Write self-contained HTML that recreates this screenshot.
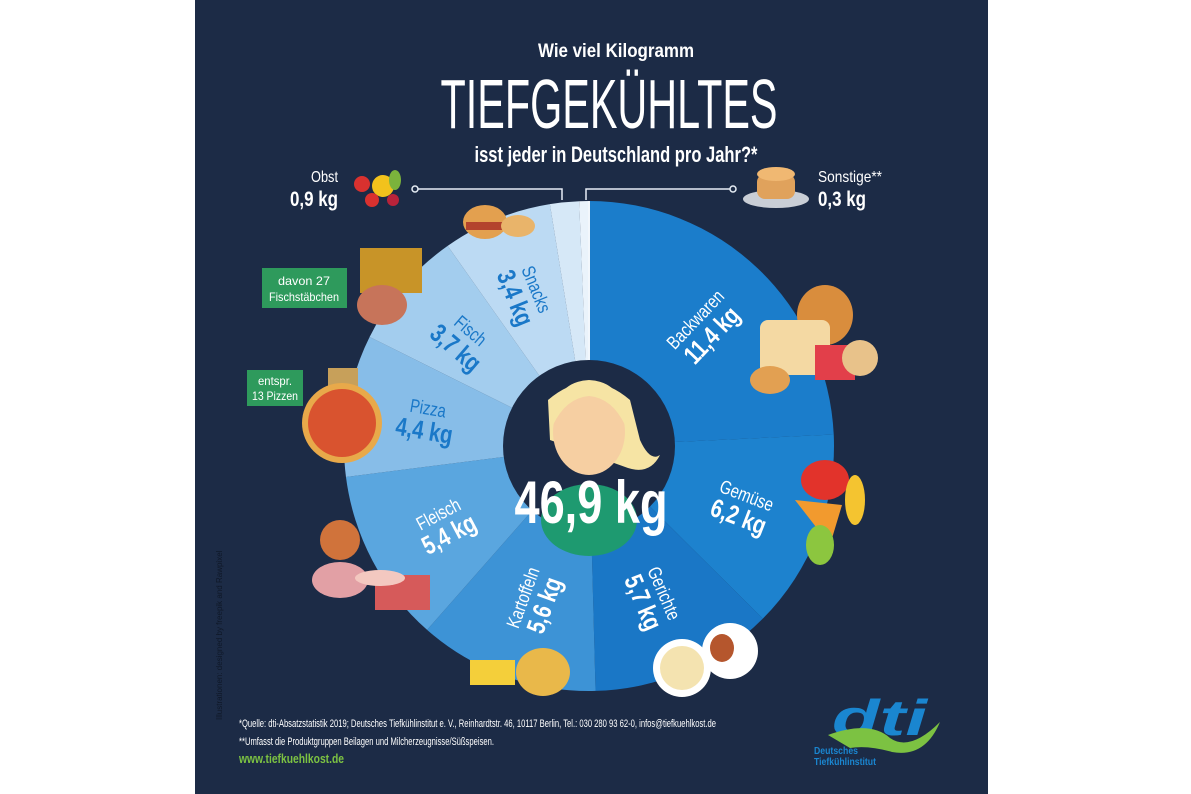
<!DOCTYPE html>
<html><head><meta charset="utf-8"><style>
html,body{margin:0;padding:0;background:#fff;}
svg{display:block;}
text{font-family:"Liberation Sans Narrow","Liberation Sans",sans-serif;}
</style></head><body>
<svg id="chart" width="1191" height="794" viewBox="0 0 1191 794">
<rect x="0" y="0" width="1191" height="794" fill="#ffffff"/>
<rect x="195" y="0" width="793" height="794" fill="#1c2b46"/>
<text x="616" y="57" text-anchor="middle" fill="#fff" font-weight="bold" font-size="19" textLength="156" lengthAdjust="spacingAndGlyphs">Wie viel Kilogramm</text>
<text x="609" y="128" text-anchor="middle" fill="#fff" font-size="70" textLength="337" lengthAdjust="spacingAndGlyphs">TIEFGEKÜHLTES</text>
<text x="616" y="162" text-anchor="middle" fill="#fff" font-weight="bold" font-size="22" textLength="283" lengthAdjust="spacingAndGlyphs">isst jeder in Deutschland pro Jahr?*</text>

<g>
<text x="338" y="182" text-anchor="end" fill="#fff" font-size="16" textLength="27" lengthAdjust="spacingAndGlyphs">Obst</text>
<text x="338" y="206" text-anchor="end" fill="#fff" font-weight="bold" font-size="21" textLength="48" lengthAdjust="spacingAndGlyphs">0,9 kg</text>
<circle cx="362" cy="184" r="8" fill="#d9312f"/><circle cx="383" cy="186" r="11" fill="#f2c21c"/><circle cx="372" cy="200" r="7" fill="#d9312f"/><circle cx="393" cy="200" r="6" fill="#b8233a"/><ellipse cx="395" cy="180" rx="6" ry="10" fill="#7bb33c"/>
<polyline points="415,189 562,189 562,200" fill="none" stroke="#e6edf5" stroke-width="1.5"/>
<circle cx="415" cy="189" r="3" fill="#1c2b46" stroke="#e6edf5" stroke-width="1.5"/>
</g>
<g>
<text x="818" y="182" fill="#fff" font-size="16" textLength="64" lengthAdjust="spacingAndGlyphs">Sonstige**</text>
<text x="818" y="206" fill="#fff" font-weight="bold" font-size="21" textLength="48" lengthAdjust="spacingAndGlyphs">0,3 kg</text>
<ellipse cx="776" cy="199" rx="33" ry="9" fill="#c9ced6"/>
<rect x="757" y="174" width="38" height="25" rx="8" fill="#e0a25c"/><ellipse cx="776" cy="174" rx="19" ry="7" fill="#f0b872"/>
<polyline points="586,200 586,189 733,189" fill="none" stroke="#e6edf5" stroke-width="1.5"/>
<circle cx="733" cy="189" r="3" fill="#1c2b46" stroke="#e6edf5" stroke-width="1.5"/>
</g>

<g id="donut"></g>

<g>
<ellipse cx="589" cy="520" rx="48" ry="36" fill="#1e9a70"/>
<path d="M548 400 Q589 365 630 400 L640 440 Q650 462 660 455 Q650 475 628 468 L550 440 Z" fill="#f6e4a4"/>
<ellipse cx="589" cy="432" rx="36" ry="43" fill="#f6cfa2"/>
<path d="M553 425 Q553 382 589 380 Q625 382 625 425 Q612 398 589 396 Q566 398 553 425Z" fill="#f6e4a4"/>
<text x="591" y="523" text-anchor="middle" fill="#fff" font-weight="bold" font-size="60" textLength="153" lengthAdjust="spacingAndGlyphs">46,9 kg</text>
</g>

<g>
<ellipse cx="485" cy="222" rx="22" ry="17" fill="#e3a04f"/><rect x="466" y="222" width="38" height="8" fill="#b3432d"/><ellipse cx="518" cy="226" rx="17" ry="11" fill="#e9b46a"/>
<rect x="360" y="248" width="62" height="45" fill="#c89428"/><ellipse cx="382" cy="305" rx="25" ry="20" fill="#c7745a"/>
<rect x="328" y="368" width="30" height="32" fill="#c7a05a"/><circle cx="342" cy="423" r="40" fill="#e8a94a"/><circle cx="342" cy="423" r="34" fill="#d9532f"/>
<ellipse cx="825" cy="315" rx="28" ry="30" fill="#d98d3d"/><rect x="760" y="320" width="70" height="55" rx="8" fill="#f4d9a3"/><rect x="815" y="345" width="40" height="35" fill="#e23f4a"/><circle cx="860" cy="358" r="18" fill="#e8c28a"/><ellipse cx="770" cy="380" rx="20" ry="14" fill="#e2a052"/>
<ellipse cx="825" cy="480" rx="24" ry="20" fill="#e2332b"/><path d="M795 500 L830 545 L842 505Z" fill="#f29a2e"/><ellipse cx="855" cy="500" rx="10" ry="25" fill="#f4c430"/><ellipse cx="820" cy="545" rx="14" ry="20" fill="#8cc63f"/>
<circle cx="682" cy="668" r="29" fill="#fff"/><circle cx="682" cy="668" r="22" fill="#f4e3b0"/><circle cx="730" cy="651" r="28" fill="#fff"/><ellipse cx="722" cy="648" rx="12" ry="14" fill="#b5562d"/>
<ellipse cx="543" cy="672" rx="27" ry="24" fill="#e9b84a"/><rect x="470" y="660" width="45" height="25" fill="#f4cf3a"/>
<circle cx="340" cy="540" r="20" fill="#d0733b"/><ellipse cx="340" cy="580" rx="28" ry="18" fill="#e2a0a5"/><rect x="375" y="575" width="55" height="35" fill="#d65a5a"/><ellipse cx="380" cy="578" rx="25" ry="8" fill="#f3c8c0"/>
</g>

<g>
<rect x="262" y="268" width="85" height="40" fill="#2e9a5c"/>
<text x="304" y="285" text-anchor="middle" fill="#fff" font-size="12" textLength="52" lengthAdjust="spacingAndGlyphs">davon 27</text>
<text x="304" y="301" text-anchor="middle" fill="#fff" font-size="12" textLength="70" lengthAdjust="spacingAndGlyphs">Fischstäbchen</text>
</g>
<g>
<rect x="247" y="370" width="56" height="36" fill="#2e9a5c"/>
<text x="275" y="385" text-anchor="middle" fill="#fff" font-size="12" textLength="34" lengthAdjust="spacingAndGlyphs">entspr.</text>
<text x="275" y="400" text-anchor="middle" fill="#fff" font-size="12" textLength="46" lengthAdjust="spacingAndGlyphs">13 Pizzen</text>
</g>

<text transform="translate(222,720) rotate(-90)" fill="#0f1828" font-size="8">Illustrationen: designed by freepik and Rawpixel</text>
<text x="239" y="727" fill="#fff" font-size="11" textLength="477" lengthAdjust="spacingAndGlyphs">*Quelle: dti-Absatzstatistik 2019; Deutsches Tiefkühlinstitut e. V., Reinhardtstr. 46, 10117 Berlin, Tel.: 030 280 93 62-0, infos@tiefkuehlkost.de</text>
<text x="239" y="745" fill="#fff" font-size="11" textLength="255" lengthAdjust="spacingAndGlyphs">**Umfasst die Produktgruppen Beilagen und Milcherzeugnisse/Süßspeisen.</text>
<text x="239" y="763" fill="#7cc242" font-weight="bold" font-size="13" textLength="105" lengthAdjust="spacingAndGlyphs">www.tiefkuehlkost.de</text>

<g>
<text x="832" y="735" fill="#1a86d0" font-weight="bold" font-style="italic" font-size="50" textLength="95" lengthAdjust="spacingAndGlyphs">dti</text>
<path d="M828 735 Q870 720 890 738 Q910 752 940 722 Q925 758 892 752 Q868 745 850 748Z" fill="#7cc242"/>
<text x="814" y="754" fill="#1a86d0" font-weight="bold" font-size="10" textLength="44" lengthAdjust="spacingAndGlyphs">Deutsches</text>
<text x="814" y="765" fill="#1a86d0" font-weight="bold" font-size="10" textLength="62" lengthAdjust="spacingAndGlyphs">Tiefkühlinstitut</text>
</g>
</svg>
<script>
const categories = ["Backwaren","Gemüse","Gerichte","Kartoffeln","Fleisch","Pizza","Fisch","Snacks","Obst","Sonstige"];
const values = [11.4, 6.2, 5.7, 5.6, 5.4, 4.4, 3.7, 3.4, 0.9, 0.3];
const valueLabels = ["11,4 kg","6,2 kg","5,7 kg","5,6 kg","5,4 kg","4,4 kg","3,7 kg","3,4 kg","",""];
const sliceColors = ["#1b7dcb","#1d82ce","#1a77c6","#3d93d6","#5aa6df","#87bde8","#a3cdee","#bcdaf3","#d6e8f7","#eaf3fb"];
const labelColors = ["#fff","#fff","#fff","#fff","#fff","#1a78c8","#1a78c8","#1a78c8","#fff","#fff"];
const CX = 589, CY = 446, R = 245, RI = 86, RL = 165;
const NS = "http://www.w3.org/2000/svg";
const g = document.getElementById("donut");
const total = values.reduce((a,b)=>a+b,0);
function angleOf(v){ return v / total * 360; }
function pt(deg, r){ const a = (deg-90)*Math.PI/180; return [CX + r*Math.cos(a), CY + r*Math.sin(a)]; }
let acc = 0;
values.forEach((v,i)=>{
  const a0 = angleOf(acc), a1 = angleOf(acc+v);
  acc += v;
  const p0 = pt(a0,R), p1 = pt(a1,R);
  const large = (a1-a0) > 180 ? 1 : 0;
  const path = document.createElementNS(NS,"path");
  path.setAttribute("d", `M${CX},${CY} L${p0[0]},${p0[1]} A${R},${R} 0 ${large} 1 ${p1[0]},${p1[1]} Z`);
  path.setAttribute("fill", sliceColors[i]);
  
  
  g.appendChild(path);
  if (valueLabels[i]) {
    const mid = (a0+a1)/2;
    const lp = pt(mid, RL);
    const rot = mid < 180 ? mid - 90 : mid - 270;
    const t = document.createElementNS(NS,"g");
    t.setAttribute("transform", `translate(${lp[0]},${lp[1]}) rotate(${rot}) scale(0.78,1)`);
    
    
    const n = document.createElementNS(NS,"text");
    n.setAttribute("text-anchor","middle"); n.setAttribute("y","-4");
    n.setAttribute("fill", labelColors[i]); n.setAttribute("font-size","19");
    n.textContent = categories[i];
    const vv = document.createElementNS(NS,"text");
    vv.setAttribute("text-anchor","middle"); vv.setAttribute("y","21");
    vv.setAttribute("fill", labelColors[i]); vv.setAttribute("font-size","26"); vv.setAttribute("font-weight","bold");
    vv.textContent = valueLabels[i];
    t.appendChild(n); t.appendChild(vv);
    g.appendChild(t);
  }
});
const sep = document.createElementNS(NS,"line");
sep.setAttribute("x1",CX); sep.setAttribute("y1",CY-R); sep.setAttribute("x2",CX); sep.setAttribute("y2",CY);
sep.setAttribute("stroke","#f2f7fc"); sep.setAttribute("stroke-width","2");


g.appendChild(sep);
const hole = document.createElementNS(NS,"circle");
hole.setAttribute("cx",CX); hole.setAttribute("cy",CY); hole.setAttribute("r",RI); hole.setAttribute("fill","#1c2b46");


g.appendChild(hole);
</script>
</body></html>
